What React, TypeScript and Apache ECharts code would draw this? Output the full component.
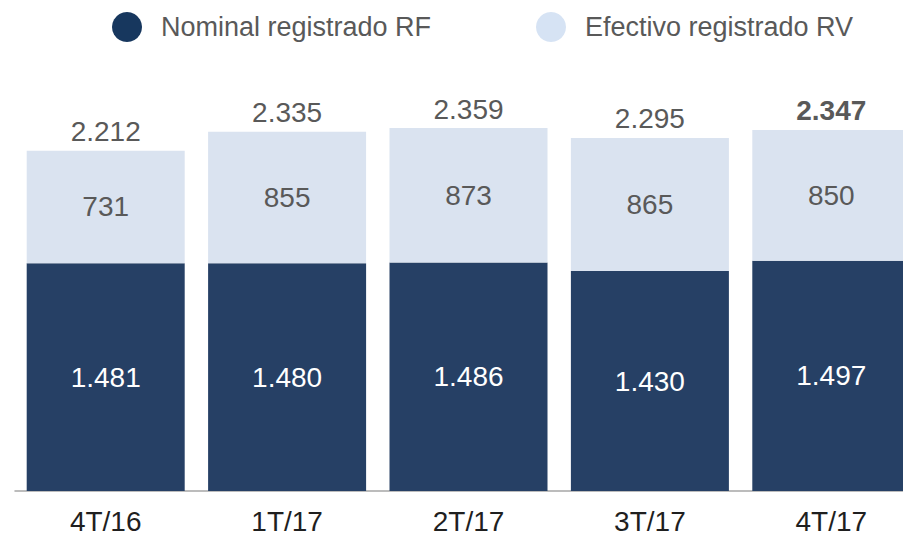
import React, { useEffect, useRef } from "react";
import * as echarts from "echarts";

const categories = ["4T/16", "1T/17", "2T/17", "3T/17", "4T/17"];
const nominalRF = [1481, 1480, 1486, 1430, 1497];
const efectivoRV = [731, 855, 873, 865, 850];
const totals = [2212, 2335, 2359, 2295, 2347];

const fmt = (v: number) => {
  const s = String(Math.round(v));
  return s.replace(/\B(?=(\d{3})+(?!\d))/g, ".");
};

export default function App() {
  const ref = useRef<HTMLDivElement>(null);
  useEffect(() => {
    if (!ref.current) return;
    const chart = echarts.init(ref.current, undefined, { renderer: "svg" });
    const font = "'Liberation Sans', Arial, sans-serif";
    const legendText = { color: "#595959", fontSize: 27, fontFamily: font, padding: [0, 0, 0, 14] };
    chart.setOption({
      animation: false,
      textStyle: { fontFamily: font },
      legend: [
        {
          data: [{ name: "Nominal registrado RF", itemStyle: { color: "#17375E" } }],
          left: 107,
          top: 7,
          icon: "circle",
          itemWidth: 30,
          itemHeight: 30,
          textStyle: legendText,
          selectedMode: false,
        },
        {
          data: [{ name: "Efectivo registrado RV", itemStyle: { color: "#D6E3F4" } }],
          left: 531,
          top: 7,
          icon: "circle",
          itemWidth: 30,
          itemHeight: 30,
          textStyle: legendText,
          selectedMode: false,
        },
      ],
      grid: { left: 15, top: 91, width: 907, bottom: 44, containLabel: false },
      xAxis: {
        type: "category",
        data: categories,
        axisLine: { lineStyle: { color: "#A6A6A6", width: 1.5 } },
        axisTick: { show: false },
        axisLabel: { color: "#1F1F1F", fontSize: 28, margin: 16, fontFamily: font },
      },
      yAxis: {
        type: "value",
        min: 0,
        max: 2600,
        show: false,
        splitLine: { show: false },
      },
      series: [
        {
          name: "Nominal registrado RF",
          type: "bar",
          stack: "total",
          data: nominalRF,
          barWidth: 158,
          itemStyle: { color: "#264065" },
          label: {
            show: true,
            position: "inside",
            color: "#FFFFFF",
            fontSize: 28,
            fontFamily: font,
            formatter: (p: any) => fmt(p.value),
          },
        },
        {
          name: "Efectivo registrado RV",
          type: "bar",
          stack: "total",
          data: efectivoRV,
          barWidth: 158,
          itemStyle: { color: "#DAE3F0" },
          label: {
            show: true,
            position: "inside",
            color: "#595959",
            fontSize: 28,
            fontFamily: font,
            formatter: (p: any) => fmt(p.value),
          },
        },
        {
          name: "total",
          type: "bar",
          stack: "total",
          data: totals.map(() => 0),
          barWidth: 158,
          itemStyle: { color: "transparent" },
          silent: true,
          label: {
            show: true,
            position: "top",
            distance: 5,
            fontSize: 28,
            fontFamily: font,
            color: "#595959",
            formatter: (p: any) =>
              p.dataIndex === totals.length - 1
                ? "{b|" + fmt(totals[p.dataIndex]) + "}"
                : fmt(totals[p.dataIndex]),
            rich: {
              b: { fontWeight: "bold", fontSize: 28, color: "#595959", fontFamily: font },
            },
          },
        },
      ],
    });
    return () => chart.dispose();
  }, []);
  return (
    <div style={{ width: 903, height: 535, position: "absolute", left: 0, top: 0, overflow: "hidden" }}>
      <div ref={ref} style={{ width: 930, height: 535 }} />
    </div>
  );
}
